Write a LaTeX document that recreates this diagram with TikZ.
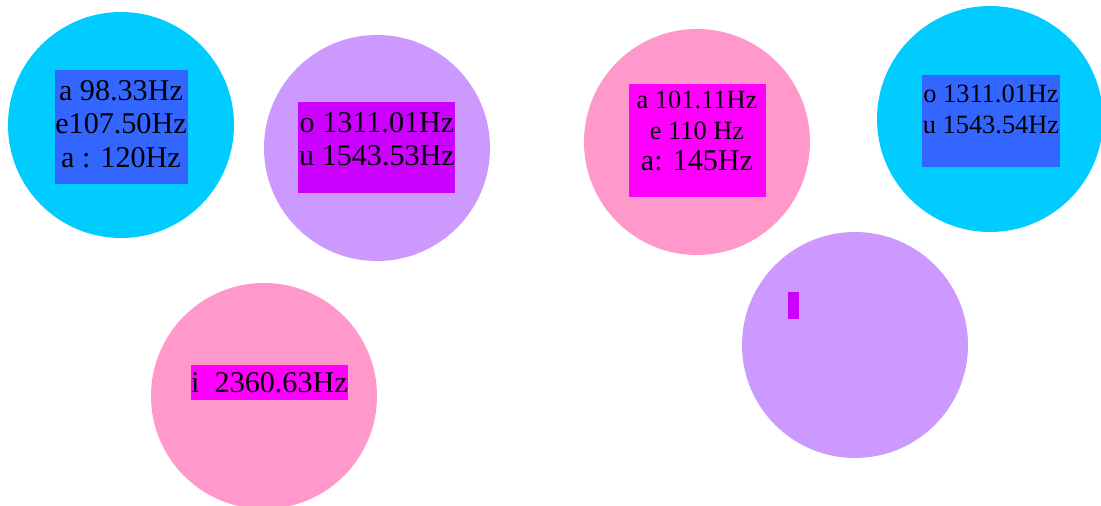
\documentclass[tikz,border=0pt]{standalone}
\usepackage{fontspec}
\setmainfont{Liberation Serif}
\definecolor{skyblob}{HTML}{00CCFF}
\definecolor{lilacblob}{HTML}{CC99FF}
\definecolor{pinkblob}{HTML}{FF99CC}
\definecolor{boxblue}{HTML}{3366FF}
\definecolor{boxviolet}{HTML}{CC00FF}
\definecolor{boxmagenta}{HTML}{FF00FF}
\tikzset{
  bigtxt/.style={font=\fontsize{22.6}{25}\selectfont},
  smalltxt/.style={font=\fontsize{19.8}{23.25}\selectfont}
}
\begin{document}
\begin{tikzpicture}[x=0.75pt,y=-0.75pt]
  \useasboundingbox (0,0) rectangle (1101,506);

  \begin{scope}[every node/.style={circle,inner sep=0pt,minimum size=169.5pt}]
    \node[fill=skyblob]   (c1) at (121,125) {};
    \node[fill=lilacblob] (c2) at (377,148) {};
    \node[fill=pinkblob]  (c3) at (697,142) {};
    \node[fill=skyblob]   (c4) at (990,119) {};
    \node[fill=lilacblob] (c5) at (855,345) {};
    \node[fill=pinkblob]  (c6) at (264,396) {};
  \end{scope}

  \begin{scope}[every node/.style={rectangle,inner sep=0pt}]
    \node[fill=boxblue,minimum width=99.75pt,minimum height=85.5pt]      (b1) at (121.5,127) {};
    \node[fill=boxviolet,minimum width=117.75pt,minimum height=68.25pt]  (b2) at (376.5,147.5) {};
    \node[fill=boxmagenta,minimum width=102.75pt,minimum height=84.75pt] (b3) at (697.5,140.5) {};
    \node[fill=boxblue,minimum width=103.5pt,minimum height=69pt]        (b4) at (991,121) {};
    \node[fill=boxviolet,minimum width=8.25pt,minimum height=20.25pt]    (b5) at (793.5,305.5) {};
    \node[fill=boxmagenta,minimum width=117.75pt,minimum height=26.25pt] (b6) at (269.5,382.5) {};
  \end{scope}

  \begin{scope}[every node/.style={align=center,inner sep=0pt}]
    \node[bigtxt]   (t1) at (121,124) {a 98.33Hz\\e107.50Hz\\a : 120Hz};
    \node[bigtxt]   (t2) at (377,139) {o 1311.01Hz\\u 1543.53Hz};
    \node[smalltxt] (t3) at (697,131) {a 101.11Hz\\e 110 Hz\\\fontsize{22.6}{26}\selectfont a: 145Hz};
    \node[smalltxt] (t4) at (991,109) {o 1311.01Hz\\u 1543.54Hz};
    \node[bigtxt]   (t6) at (269.5,383) {i\ \ 2360.63Hz};
  \end{scope}

\end{tikzpicture}
\end{document}
